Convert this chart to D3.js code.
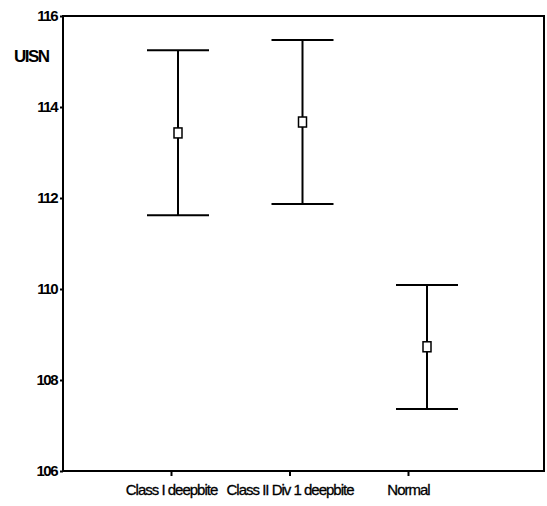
<!DOCTYPE html>
<html>
<head>
<meta charset="utf-8">
<script src="https://cdn.jsdelivr.net/npm/d3@7"></script>
<style>
  body { margin: 0; background: #fff; }
  text { font-family: "Liberation Sans", Arial, sans-serif; }
</style>
</head>
<body>
<div id="chart"></div>
<script>
// Data
var groups = ["Class I deepbite", "Class II Div 1 deepbite", "Normal"];
var means = [113.43, 113.67, 108.73];
var upper = [115.25, 115.47, 110.09];
var lower = [111.62, 111.87, 107.36];
var yTicks = [106, 108, 110, 112, 114, 116];

var svgWidth = 547;
var svgHeight = 506;

// Plot box
var box = { left: 63, top: 16, right: 544, bottom: 471 };

var svg = d3.select("#chart")
  .append("svg")
  .attr("width", svgWidth)
  .attr("height", svgHeight);

var yScale = d3.scaleLinear()
  .domain([106, 116])
  .range([box.bottom, box.top]);

// tick positions and bar positions are slightly apart in the original
var xTickScale = d3.scalePoint()
  .domain(groups)
  .range([171, 408]);

var xBarScale = d3.scalePoint()
  .domain(groups)
  .range([178, 427]);

// Frame
svg.append("rect")
  .attr("x", box.left)
  .attr("y", box.top)
  .attr("width", box.right - box.left)
  .attr("height", box.bottom - box.top)
  .attr("fill", "none")
  .attr("stroke", "#000")
  .attr("stroke-width", 2);

// Y axis
var leftAxis = d3.axisLeft(yScale)
  .tickValues(yTicks)
  .tickSize(3)
  .tickPadding(3)
  .tickFormat(d3.format("d"));

var yAxis = svg.append("g")
  .attr("transform", `translate(${box.left}, 0)`)
  .call(leftAxis);
yAxis.select(".domain").remove();
yAxis.selectAll("line").attr("stroke-width", 2);
yAxis.selectAll("text")
  .attr("font-size", 15)
  .attr("font-weight", "bold")
  .attr("letter-spacing", -1.5)
  .attr("fill", "#000");

// X axis
var bottomAxis = d3.axisBottom(xTickScale)
  .tickSize(5)
  .tickPadding(8);

var xAxis = svg.append("g")
  .attr("transform", `translate(0, ${box.bottom})`)
  .call(bottomAxis);
xAxis.select(".domain").remove();
xAxis.selectAll("line").attr("stroke-width", 2);
xAxis.selectAll("text")
  .attr("font-size", 15)
  .attr("letter-spacing", -1)
  .attr("fill", "#000")
  .attr("stroke", "#000")
  .attr("stroke-width", 0.3);

// Y label
svg.append("text")
  .attr("x", 14)
  .attr("y", 62)
  .attr("font-size", 17)
  .attr("font-weight", "bold")
  .attr("letter-spacing", -1.5)
  .text("UISN");

// Error bars
var capHalf = 31;
var bars = svg.selectAll(".bar")
  .data(groups)
  .enter()
  .append("g")
  .attr("class", "bar");

bars.append("line")
  .attr("x1", d => xBarScale(d))
  .attr("x2", d => xBarScale(d))
  .attr("y1", (d, i) => yScale(upper[i]))
  .attr("y2", (d, i) => yScale(lower[i]))
  .attr("stroke", "#000")
  .attr("stroke-width", 2);

bars.append("line")
  .attr("x1", d => xBarScale(d) - capHalf)
  .attr("x2", d => xBarScale(d) + capHalf)
  .attr("y1", (d, i) => yScale(upper[i]))
  .attr("y2", (d, i) => yScale(upper[i]))
  .attr("stroke", "#000")
  .attr("stroke-width", 2);

bars.append("line")
  .attr("x1", d => xBarScale(d) - capHalf)
  .attr("x2", d => xBarScale(d) + capHalf)
  .attr("y1", (d, i) => yScale(lower[i]))
  .attr("y2", (d, i) => yScale(lower[i]))
  .attr("stroke", "#000")
  .attr("stroke-width", 2);

// Mean markers
bars.append("rect")
  .attr("x", d => xBarScale(d) - 4)
  .attr("y", (d, i) => yScale(means[i]) - 5)
  .attr("width", 8)
  .attr("height", 10)
  .attr("fill", "#fff")
  .attr("stroke", "#000")
  .attr("stroke-width", 1.5);
</script>
</body>
</html>
